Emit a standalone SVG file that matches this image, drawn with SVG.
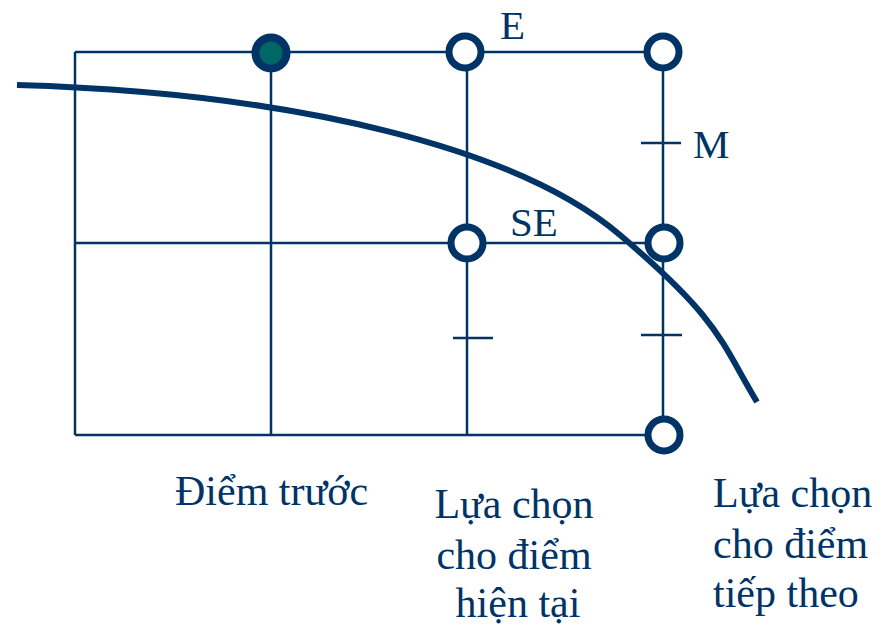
<svg xmlns="http://www.w3.org/2000/svg" width="888" height="626" viewBox="0 0 888 626">
<style>
.g{stroke:#003366;stroke-width:2.5;fill:none}
.pt{stroke:#003366;stroke-width:7;fill:#fff}
.t{font-family:"Liberation Serif","Times New Roman",serif;fill:#003366;font-size:41px}
.b{font-size:42px}
</style>
<rect width="888" height="626" fill="#fff"/>
<g id="grid" class="g">
<path d="M75,52H663M75,243H663M75,435H663M75,52V435M271,52V435M467,52V435M663,52V435"/>
<path d="M453,338H493M641,143H681M641,335H682"/>
</g>
<g id="curve">
<path d="M17,85 C300,93 520,150 620,235 S720,340 757,402" fill="none" stroke="#003366" stroke-width="6"/>
</g>
<g id="p-prev"><circle cx="271" cy="53" r="15.5" fill="#006666" stroke="#003366" stroke-width="8"/></g>
<g id="p-E"><circle class="pt" cx="465" cy="52" r="16"/></g>
<g id="p-NE"><circle class="pt" cx="663" cy="52" r="16"/></g>
<g id="p-SE"><circle class="pt" cx="467" cy="243" r="16"/></g>
<g id="p-E2"><circle class="pt" cx="664" cy="243" r="16"/></g>
<g id="p-SE2"><circle class="pt" cx="664" cy="435" r="16"/></g>
<g id="labels">
<text class="t" x="500" y="39">E</text>
<text class="t" x="693" y="158">M</text>
<text class="t" x="510" y="236">SE</text>
<text class="t b" x="175" y="505">Điểm trước</text>
<text class="t b" text-anchor="middle" x="514"><tspan x="514" y="518">Lựa chọn</tspan><tspan x="514" y="569">cho điểm</tspan><tspan x="518" y="617">hiện tại</tspan></text>
<text class="t b" x="713"><tspan x="713" y="507">Lựa chọn</tspan><tspan x="713" y="558">cho điểm</tspan><tspan x="713" y="607">tiếp theo</tspan></text>
</g>
</svg>
